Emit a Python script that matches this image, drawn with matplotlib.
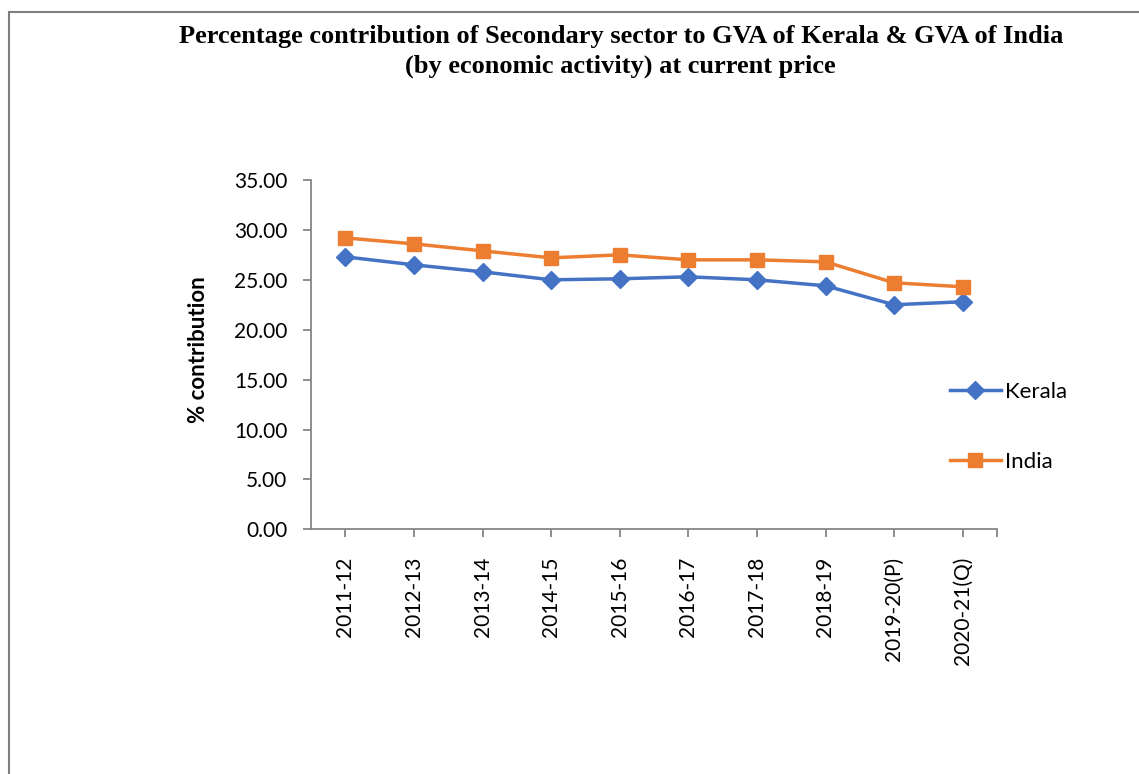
import matplotlib.pyplot as plt
from matplotlib.patches import Rectangle

# Data
years = ['2011-12', '2012-13', '2013-14', '2014-15', '2015-16', '2016-17',
         '2017-18', '2018-19', '2019-20(P)', '2020-21(Q)']
kerala = [27.3, 26.5, 25.8, 25.0, 25.1, 25.3, 25.0, 24.4, 22.5, 22.8]
india = [29.2, 28.6, 27.9, 27.2, 27.5, 27.0, 27.0, 26.8, 24.7, 24.3]

label_font = ['Lato', 'DejaVu Sans']
axis_gray = '#868686'

fig = plt.figure(figsize=(11.39, 7.74), dpi=100)
ax = fig.add_axes([311 / 1139, 1 - 529.3 / 774, (997 - 311) / 1139, (529.3 - 180) / 774])

x = list(range(len(years)))
ax.plot(x, kerala, color='#4472C4', lw=2.5, marker='D', ms=9, label='Kerala')
ax.plot(x, india, color='#ED7D31', lw=2.5, marker='s', ms=10, label='India')

ax.set_xlim(-0.5, len(years) - 0.5)
ax.set_ylim(0, 35)
ax.set_yticks([0, 5, 10, 15, 20, 25, 30, 35])
ax.set_yticklabels([f'{v:.2f}' for v in ax.get_yticks()], fontsize=15, family=label_font)
ax.set_xticks(x + [len(years) - 0.5])
ax.set_xticklabels(years + [''], rotation=90, fontsize=15, family=label_font)

for side in ['top', 'right']:
    ax.spines[side].set_visible(False)
for side in ['left', 'bottom']:
    ax.spines[side].set_color(axis_gray)
    ax.spines[side].set_linewidth(1.3)
ax.tick_params(axis='both', colors=axis_gray, labelcolor='black', length=6, width=1.3)
ax.tick_params(axis='x', pad=14)
ax.tick_params(axis='y', pad=11)

ax.set_ylabel('% contribution', fontsize=16, fontweight='bold', family=label_font)
ax.yaxis.set_label_coords(-0.148, 0.513)

fig.text(0.545, 0.933, 'Percentage contribution of Secondary sector to GVA of Kerala & GVA of India\n'
         '(by economic activity) at current price',
         ha='center', va='center', fontsize=19, fontweight='bold',
         family='Liberation Serif', linespacing=1.38)

leg = ax.legend(loc='center left', bbox_to_anchor=(0.902, 0.293), frameon=False,
                prop={'family': label_font, 'size': 16}, labelspacing=2.25,
                handlelength=2.3, handletextpad=0.2)

# chart area border (runs off the right and bottom edges)
border = Rectangle((9 / 1139, -0.2), 1.5, 1.2 - 12 / 774, transform=fig.transFigure,
                   fill=False, edgecolor='#808080', lw=1.5, clip_on=False)
fig.patches.append(border)

fig.savefig('out.png', dpi=100)
